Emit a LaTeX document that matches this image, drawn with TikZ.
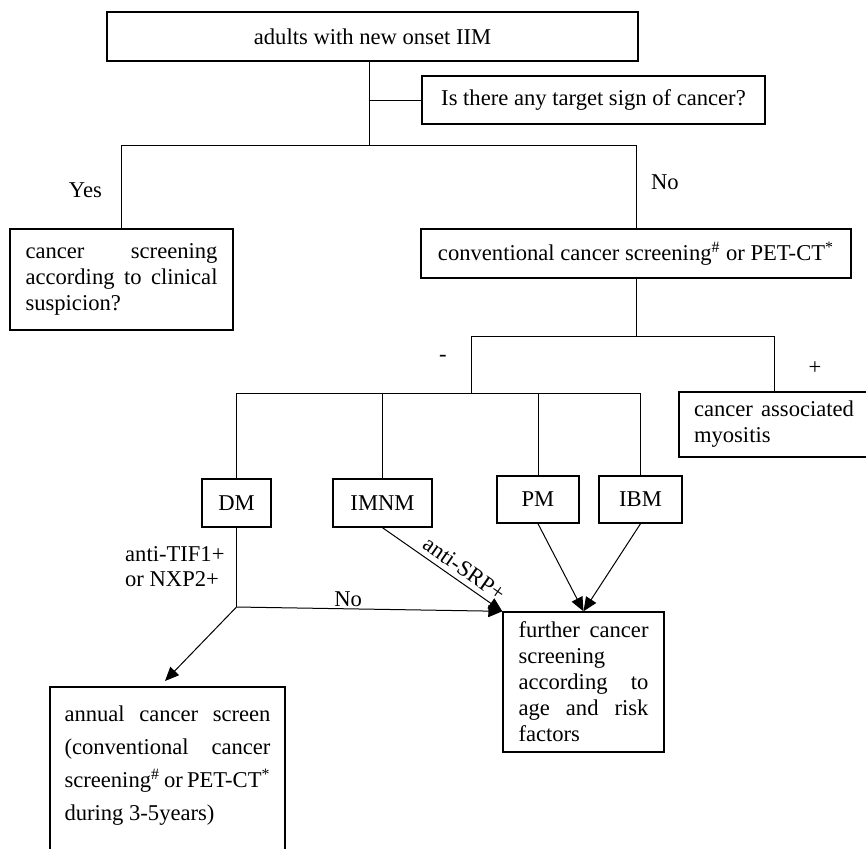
\documentclass[tikz,border=0pt]{standalone}
\usepackage{fontspec}
\setmainfont{Liberation Serif}
\usetikzlibrary{arrows.meta}
\hbadness=10000

\begin{document}
\begin{tikzpicture}[x=0.5pt,y=-0.5pt,>={Triangle[length=7pt,width=6pt]},
  every node/.style={font=\fontsize{11.3}{13}\selectfont},
  box/.style={draw,line width=0.7pt,inner sep=0pt},
  every path/.style={line width=0.5pt}]
\useasboundingbox (0,0) rectangle (866,848);

\node[box,minimum width=265.5pt,minimum height=24.5pt] (onset) at (372.5,36.5) {adults with new onset IIM};
\node[box,minimum width=171.5pt,minimum height=24pt] (question) at (593.5,100) {Is there any target sign of cancer?};
\node[box,minimum width=111.5pt,minimum height=50.5pt,text width=96pt,align=justify] (clinical) at (121.5,279.5)
  {cancer screening\linebreak according to clinical suspicion?};
\node[box,minimum width=215pt,minimum height=24.5pt] (conv) at (636,253.5)
  {conventional cancer screening\textsuperscript{\#} or PET-CT\textsuperscript{*}};
\node[box,minimum width=95pt,minimum height=32.5pt,text width=80pt,align=justify] (assoc) at (774,424.5)
  {cancer associated\linebreak myositis};

\node[box,minimum width=34.5pt,minimum height=24pt] (dm) at (236.5,503) {DM};
\node[box,minimum width=49.5pt,minimum height=24pt] (imnm) at (382.5,503) {IMNM};
\node[box,minimum width=41pt,minimum height=23.5pt] (pm) at (538,499.5) {PM};
\node[box,minimum width=41.5pt,minimum height=23.5pt] (ibm) at (640.5,499.5) {IBM};

\node[box,minimum width=80.5pt,minimum height=70pt,text width=65pt,align=justify] (further) at (583.5,682)
  {further cancer\linebreak screening\linebreak according to\linebreak age and risk\linebreak factors};
\node[box,minimum width=117.5pt,minimum height=93pt,text width=103pt,align=justify,
  font=\fontsize{11.3}{16.5}\selectfont] (annual) at (167.5,780)
  {annual cancer screen\linebreak (conventional cancer\linebreak screening\textsuperscript{\#} or PET-CT\textsuperscript{*}\linebreak during 3-5years)\\ \mbox{}};

\node[anchor=east] (yes) at (109,190) {Yes};
\node[anchor=west] (no) at (644,182) {No};
\node (minus) at (443,358) {-};
\node (plus) at (815,368) {+};
\node[anchor=west,align=left,font=\fontsize{11.3}{12.5}\selectfont] (antibody) at (118,567) {anti-TIF1+\\or NXP2+};

\coordinate (split) at (369,145);
\coordinate (splitL) at (121.5,145);
\coordinate (splitR) at (636,145);
\coordinate (neg) at (471,336);
\coordinate (pos) at (774,336);
\coordinate (types) at (471,393);
\coordinate (typesL) at (236.5,393);
\coordinate (typesR) at (640.5,393);
\coordinate (dmjoin) at (236.5,607);
\coordinate (annualtip) at (165,681);

\draw (onset.south -| split) -- (split);
\draw (question.west) -- (question.west -| split);
\draw (splitL) -- (splitR);
\draw (splitL) -- (clinical.north);
\draw (splitR) -- (conv.north);

\draw (conv.south) -- (conv.south |- neg);
\draw (neg) -- (pos);
\draw (pos) -- (assoc.north);
\draw (neg) -- (types);
\draw (typesL) -- (typesR);
\draw (typesL) -- (dm.north);
\draw (imnm.north |- types) -- (imnm.north);
\draw (pm.north |- types) -- (pm.north);
\draw (typesR) -- (ibm.north);

\draw (dm.south) -- (dmjoin);
\draw[->] (dmjoin) -- node[above,pos=0.42,inner sep=1pt] {No} (further.north west);
\draw[->] (dmjoin) -- (annualtip);
\draw[->] (imnm.south) -- node[sloped,above,pos=0.62,inner sep=2.5pt] {anti-SRP+} (further.north west);
\draw[->] (pm.south) -- (further.north);
\draw[->] (ibm.south) -- (further.north);
\end{tikzpicture}
\end{document}
